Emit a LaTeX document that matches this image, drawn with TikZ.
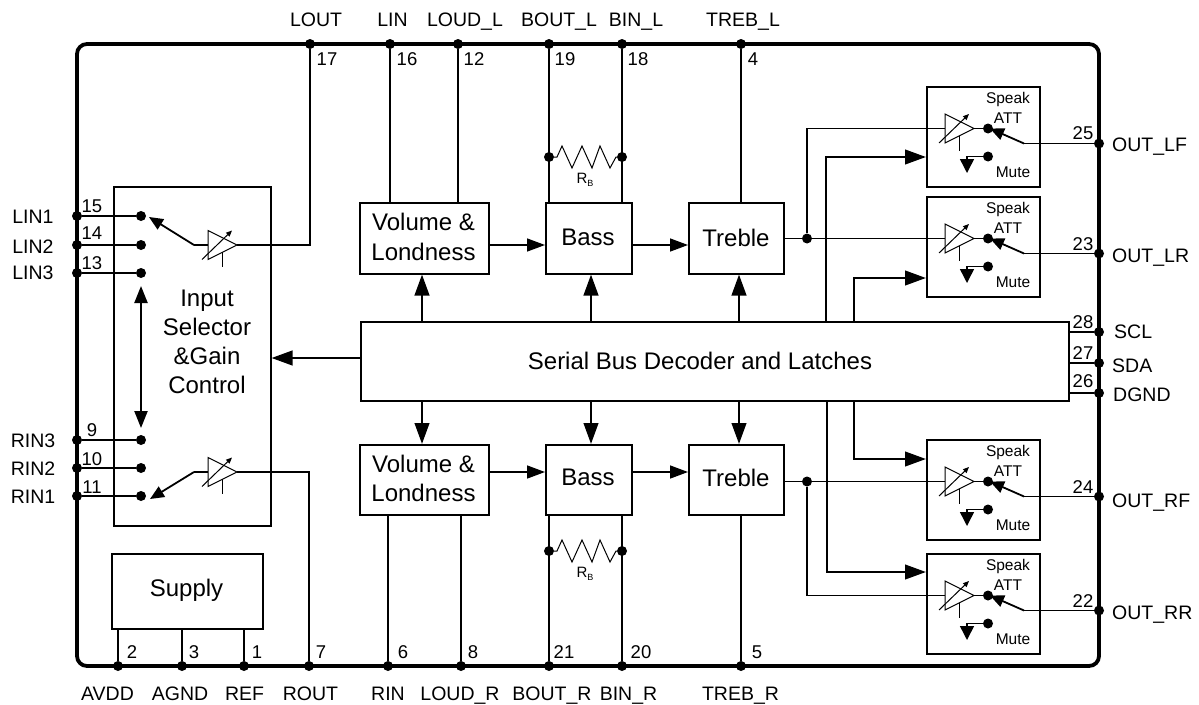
\documentclass[tikz,border=0pt]{standalone}
\usepackage{fontspec}
\setmainfont{Liberation Sans}
\usetikzlibrary{arrows.meta,calc}
\tikzset{
  wire/.style={line width=1.5pt,line join=miter},
  bus/.style={line width=2.6pt,-{Triangle[length=21pt,width=14.5pt]},shorten >=0pt},
  busdbl/.style={line width=2.2pt,{Triangle[length=17pt,width=13pt]}-{Triangle[length=17pt,width=13pt]}},
  flow/.style={line width=1.5pt,-{Triangle[length=18pt,width=13pt]}},
  gnd/.style={line width=1.5pt,-{Triangle[length=14pt,width=14pt]}},
  swarrow/.style={line width=1.8pt,-{Triangle[length=14pt,width=12pt]}},
  blockbox/.style={draw,line width=1.5pt,fill=white,inner sep=0pt,anchor=north west,align=center},
  dotn/.style={circle,fill=black,draw=none,minimum size=10pt,inner sep=0pt},
  lbl/.style={font=\fontsize{19.5}{19.5}\selectfont,inner sep=0pt,anchor=base,yshift=-7pt},
  num/.style={font=\fontsize{18.5}{18.5}\selectfont,inner sep=0pt,anchor=base,yshift=-7pt},
  ttl/.style={font=\fontsize{24}{29.2}\selectfont,inner sep=0pt,align=center},
  small/.style={font=\fontsize{15.5}{16}\selectfont,inner sep=0pt},
  thinl/.style={line width=1pt},
  varr/.style={line width=1pt,-{Triangle[length=6pt,width=5pt]}},
}
\newcommand{\ampsym}[3]{% #1 name, #2 left x, #3 centre y
  \coordinate (#1L) at (#2,#3);
  \coordinate (#1R) at (#2+29,#3);
  \draw[thinl,fill=white] (#2,#3-14.5) -- (#2+29,#3) -- (#2,#3+14.5) -- cycle;
  \draw[varr] (#2-6,#3+14.5) -- (#2+24,#3-14.5);
  \draw[thinl] (#2+14,#3+7) -- (#2+14,#3+22);
}
\newcommand{\speakblock}[2]{% #1 name, #2 top y
  \node[blockbox,minimum width=113pt,minimum height=100pt] (#1) at (926,#2) {};
  \ampsym{#1a}{945}{#2+42.5}
  \node[dotn] (#1d) at (988,#2+42.5) {};
  \node[dotn] (#1m) at (988,#2+70.5) {};
  \coordinate (#1t) at (1024,#2+57.5);
  \draw[wire] (#1aR) -- (#1d);
  \draw[swarrow] (#1t) -- (990,#2+42.5);
  \draw[gnd] (#1m) -| (967,#2+87);
  \node[small] (#1s) at (1008,#2+13) {Speak};
  \node[small] (#1v) at (1008,#2+32) {ATT};
  \node[small] (#1u) at (1013,#2+86) {Mute};
}
\begin{document}
\begin{tikzpicture}[x=1pt,y=-1pt]
\useasboundingbox (0,0) rectangle (1199,704);
\fill[white] (0,0) rectangle (1199,704);

% package outline
\draw[line width=3.8pt,rounded corners=10pt] (77,44) rectangle (1099,666);

% pins
\foreach \n/\x/\y in {pLOUT/310/44,pLIN/390/44,pLDL/458/44,pBOL/549/44,pBIL/622/44,pTRL/741/44,
  pAVDD/118/666,pAGND/182/666,pREF/244/666,pROUT/309/666,pRIN/388/666,pLDR/461/666,pBOR/549/666,pBIR/622/666,pTRR/741/666,
  pLI1/77/216,pLI2/77/245,pLI3/77/273,pRI3/77/440,pRI2/77/468,pRI1/77/496,
  p25/1099/143.5,p23/1099/253.5,p28/1099/332,p27/1099/363,p26/1099/393,p24/1099/496.5,p22/1099/610.5}
  {\node[dotn] (\n) at (\x,\y) {};}

% blocks
\node[blockbox,minimum width=157pt,minimum height=339pt] (sel) at (113,186) {};
\node[ttl] (selt) at (207,342) {Input\\Selector\\\&Gain\\Control};
\node[blockbox,minimum width=151pt,minimum height=75pt] (sup) at (111,553) {};
\node[ttl] (supt) at (186.5,590) {Supply};
\node[blockbox,minimum width=129pt,minimum height=71pt] (volT) at (359,202) {};
\node[ttl] (volTt) at (423.5,237) {Volume \&\\Londness};
\node[blockbox,minimum width=86pt,minimum height=71pt] (basT) at (545,202) {};
\node[ttl] (basTt) at (588,237.5) {Bass};
\node[blockbox,minimum width=95pt,minimum height=71pt] (treT) at (688,202) {};
\node[ttl] (treTt) at (736,237.5) {Treble};
\node[blockbox,minimum width=129pt,minimum height=70pt] (volB) at (359,444) {};
\node[ttl] (volBt) at (423.5,478.5) {Volume \&\\Londness};
\node[blockbox,minimum width=86pt,minimum height=70pt] (basB) at (545,444) {};
\node[ttl] (basBt) at (588,477.5) {Bass};
\node[blockbox,minimum width=95pt,minimum height=70pt] (treB) at (688,444) {};
\node[ttl] (treBt) at (736,477.5) {Treble};
\node[blockbox,minimum width=708pt,minimum height=79pt] (dec) at (360,321) {};
\node[ttl] (dect) at (700,361) {Serial Bus Decoder and Latches};

% speaker attenuators
\speakblock{sLF}{86}
\speakblock{sLR}{196}
\speakblock{sRF}{439}
\speakblock{sRR}{553}

% pin-to-block wires, top
\draw[wire] (pLIN) -- (pLIN |- volT.north);
\draw[wire] (pLDL) -- (pLDL |- volT.north);
\draw[wire] (pBOL) -- (pBOL |- basT.north);
\draw[wire] (pBIL) -- (pBIL |- basT.north);
\draw[wire] (pTRL) -- (pTRL |- treT.north);
% bottom
\draw[wire] (pRIN) -- (pRIN |- volB.south);
\draw[wire] (pLDR) -- (pLDR |- volB.south);
\draw[wire] (pBOR) -- (pBOR |- basB.south);
\draw[wire] (pBIR) -- (pBIR |- basB.south);
\draw[wire] (pTRR) -- (pTRR |- treB.south);
\draw[wire] (pAVDD) -- (pAVDD |- sup.south);
\draw[wire] (pAGND) -- (pAGND |- sup.south);
\draw[wire] (pREF) -- (pREF |- sup.south);

% bass resistors
\foreach \nm/\y/\ty in {T/157/180,B/551/574}{
  \node[dotn] (ra\nm) at (549,\y) {};
  \node[dotn] (rb\nm) at (622,\y) {};
  \draw[thinl,line join=miter] (ra\nm) -- (557,\y) -- (562,\y-11) -- (572,\y+11) -- (582,\y-11) -- (592,\y+11) -- (600,\y-11) -- (610,\y+11) -- (616,\y) -- (rb\nm);
  \node[font=\fontsize{15}{15}\selectfont,inner sep=0pt] (rl\nm) at (585,\ty) {R\raisebox{-3pt}{\fontsize{9}{9}\selectfont B}};
}

% input selector
\foreach \n/\y in {LI1/216,LI2/245,LI3/273,RI3/440,RI2/468,RI1/496}{
  \node[dotn] (d\n) at (141,\y) {};
  \draw[wire] (p\n) -- (d\n);
}
\ampsym{aT}{208}{245}
\ampsym{aB}{208}{472}
\coordinate (swT) at (194,245);
\coordinate (swB) at (194,472);
\draw[wire] (swT) -- (aTL);
\draw[wire] (swB) -- (aBL);
\draw[swarrow] (swT) -- (149,217);
\draw[swarrow] (swB) -- (150,499);
\draw[wire] (aTR) -| (pLOUT);
\draw[wire] (aBR) -| (pROUT);
\coordinate (dblT) at (141,286);
\coordinate (dblB) at (141,428);
\draw[busdbl] (dblT) -- (dblB);

% signal path
\draw[flow] (volT.east |- 0,245) -- (basT.west |- 0,245);
\draw[flow] (basT.east |- 0,245) -- (treT.west |- 0,245);
\draw[flow] (volB.east |- 0,472) -- (basB.west |- 0,472);
\draw[flow] (basB.east |- 0,472) -- (treB.west |- 0,472);

% decoder control arrows
\draw[bus] (dec.west |- 0,358) -- (sel.east |- 0,358);
\foreach \x/\a/\b in {422/volT/volB,591/basT/basB,739/treT/treB}{
  \draw[bus] (dec.north -| \x,0) -- (\a.south -| \x,0);
  \draw[bus] (dec.south -| \x,0) -- (\b.north -| \x,0);
}
\draw[bus] (dec.north -| 826,0) |- (sLF.west |- 0,157);
\draw[bus] (dec.north -| 854,0) |- (sLR.west |- 0,278);
\draw[bus] (dec.south -| 854,0) |- (sRF.west |- 0,459);
\draw[bus] (dec.south -| 827,0) |- (sRR.west |- 0,572);

% treble to attenuators
\node[dotn] (jT) at (807,238.5) {};
\node[dotn] (jB) at (807,481.5) {};
\draw[wire] (treT.east |- jT) -- (jT) -- (sLRaL);
\draw[wire] (jT) |- (sLFaL);
\draw[wire] (treB.east |- jB) -- (jB) -- (sRFaL);
\draw[wire] (jB) |- (sRRaL);

% outputs
\foreach \s/\p in {sLF/p25,sLR/p23,sRF/p24,sRR/p22}{
  \draw[wire] (\s t) -- (\p);
}
\foreach \p in {p28,p27,p26}{
  \draw[wire] (\p -| dec.east) -- (\p);
}

% pin numbers
\foreach \n/\x/\y/\t in {n17/327/58/17,n16/407/58/16,n12/474/58/12,n19/565/58/19,n18/638/58/18,n4/753/58/4,
  n2/132/651/2,n3/194/651/3,n1/257/651/1,n7/321/651/7,n6/403/651/6,n8/473/651/8,n21/564/651/21,n20/641/651/20,n5/757/651/5,
  n15/92/205/15,n14/92/232/14,n13/92/262/13,n9/92/429/9,n10/92/458/10,n11/92/486/11,
  n25/1083/132/25,n23/1083/243/23,n28/1083/321/28,n27/1083/352/27,n26/1083/380/26,n24/1083/486/24,n22/1083/600/22}
  {\node[num] (\n) at (\x,\y) {\t};}

% pin names
\foreach \n/\x/\y/\t in {tA/316/19/LOUT,tB/392.5/19/LIN,tC/465/19/LOUD\_L,tD/559/19/BOUT\_L,tE/636/19/BIN\_L,tF/743/19/TREB\_L,
  bA/107.5/693/AVDD,bB/180/693/AGND,bC/244.5/693/REF,bD/310.5/693/ROUT,bE/388/693/RIN,bF/460/693/LOUD\_R,bG/552/693/BOUT\_R,bH/628.5/693/BIN\_R,bI/740.5/693/TREB\_R,
  lA/33/216/LIN1,lB/33/246/LIN2,lC/33/272/LIN3,lD/33/440/RIN3,lE/33/468/RIN2,lF/33/496/RIN1}
  {\node[lbl] (\n) at (\x,\y) {\t};}
\foreach \n/\x/\y/\t in {rA/1112/144/OUT\_LF,rB/1112/255/OUT\_LR,rC/1114/331/SCL,rD/1112/365/SDA,rE/1113/394/DGND,rF/1112/500/OUT\_RF,rG/1112/612/OUT\_RR}
  {\node[lbl,anchor=base west] (\n) at (\x,\y) {\t};}
\end{tikzpicture}
\end{document}
